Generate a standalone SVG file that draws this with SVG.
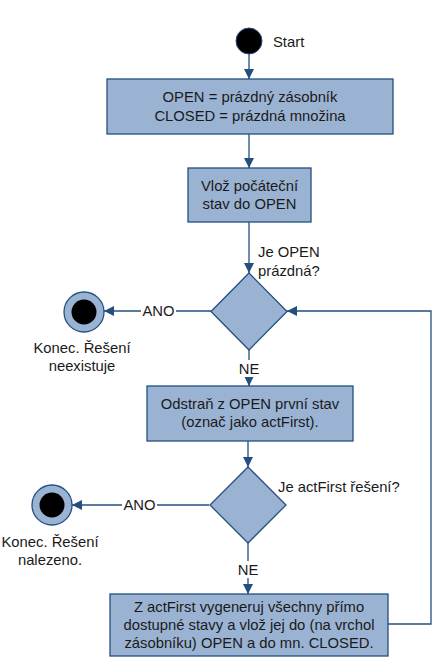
<svg xmlns="http://www.w3.org/2000/svg" width="448" height="665" viewBox="0 0 448 665">
<style>
text{font-family:"Liberation Sans",Arial,sans-serif;font-size:14.8px;fill:#1a1a1a}
.c{text-anchor:middle}
.box{fill:#9bb3d3;stroke:#234f7f;stroke-width:1.3}
.ln{fill:none;stroke:#234f7f;stroke-width:1.3}
.lbl{fill:#fff}
</style>
<defs>
<marker id="ah" viewBox="0 0 10 10" refX="10" refY="5" markerWidth="10" markerHeight="10" markerUnits="userSpaceOnUse" orient="auto">
<path d="M0,0 L10,5 L0,10 z" fill="#234f7f"/>
</marker>
</defs>
<rect width="448" height="665" fill="#fff"/>
<g id="connectors">
<line class="ln" x1="249" y1="54" x2="249" y2="79" marker-end="url(#ah)"/>
<line class="ln" x1="249" y1="134" x2="249" y2="168" marker-end="url(#ah)"/>
<line class="ln" x1="249" y1="222" x2="249" y2="273" marker-end="url(#ah)"/>
<line class="ln" x1="211" y1="311" x2="104" y2="311" marker-end="url(#ah)"/>
<line class="ln" x1="249" y1="350" x2="249" y2="386" marker-end="url(#ah)"/>
<line class="ln" x1="248" y1="441" x2="248" y2="467" marker-end="url(#ah)"/>
<line class="ln" x1="209" y1="505" x2="72" y2="505" marker-end="url(#ah)"/>
<line class="ln" x1="248" y1="543" x2="248" y2="594" marker-end="url(#ah)"/>
<polyline class="ln" points="388,624 431,624 431,311 287,311" marker-end="url(#ah)"/>
<rect class="lbl" x="141" y="303" width="35" height="16"/>
<text class="c" x="158.5" y="316">ANO</text>
<rect class="lbl" x="237" y="360" width="24" height="17"/>
<text class="c" x="249" y="374">NE</text>
<rect class="lbl" x="122" y="497" width="35" height="16"/>
<text class="c" x="139.5" y="510">ANO</text>
<rect class="lbl" x="236" y="561" width="24" height="17"/>
<text class="c" x="248" y="575">NE</text>
</g>
<g id="start">
<circle cx="249" cy="41" r="13" fill="#000" stroke="#234f7f" stroke-width="1"/>
<text x="273" y="47">Start</text>
</g>
<g id="init">
<rect class="box" x="107" y="79" width="286" height="55"/>
<text class="c" x="250" y="102">OPEN = prázdný zásobník</text>
<text class="c" x="250" y="121">CLOSED = prázdná množina</text>
</g>
<g id="insert">
<rect class="box" x="188" y="168" width="123" height="54"/>
<text class="c" x="249.5" y="191">Vlož počáteční</text>
<text class="c" x="249.5" y="209">stav do OPEN</text>
</g>
<g id="dec1">
<polygon class="box" points="249,273 287,311.5 249,350 211,311.5"/>
<text x="258" y="257">Je OPEN</text>
<text x="258" y="276">prázdná?</text>
</g>
<g id="end1">
<circle cx="84" cy="312" r="20" class="box"/>
<circle cx="84" cy="312" r="12.5" fill="#000"/>
<text class="c" x="82" y="353">Konec. Řešení</text>
<text class="c" x="82" y="371">neexistuje</text>
</g>
<g id="remove">
<rect class="box" x="147" y="386" width="206" height="55"/>
<text class="c" x="250" y="409">Odstraň z OPEN první stav</text>
<text class="c" x="250" y="427">(označ jako actFirst).</text>
</g>
<g id="dec2">
<polygon class="box" points="248,467 286,505 248,543 210,505"/>
<text x="278" y="492">Je actFirst řešení?</text>
</g>
<g id="end2">
<circle cx="52" cy="505" r="20" class="box"/>
<circle cx="52" cy="505" r="12.5" fill="#000"/>
<text class="c" x="50" y="547">Konec. Řešení</text>
<text class="c" x="50" y="565">nalezeno.</text>
</g>
<g id="expand">
<rect class="box" x="110" y="594" width="278" height="62"/>
<text class="c" x="249" y="612">Z actFirst vygeneruj všechny přímo</text>
<text class="c" x="249" y="630">dostupné stavy a vlož jej do (na vrchol</text>
<text class="c" x="249" y="648">zásobníku) OPEN a do mn. CLOSED.</text>
</g>
</svg>
